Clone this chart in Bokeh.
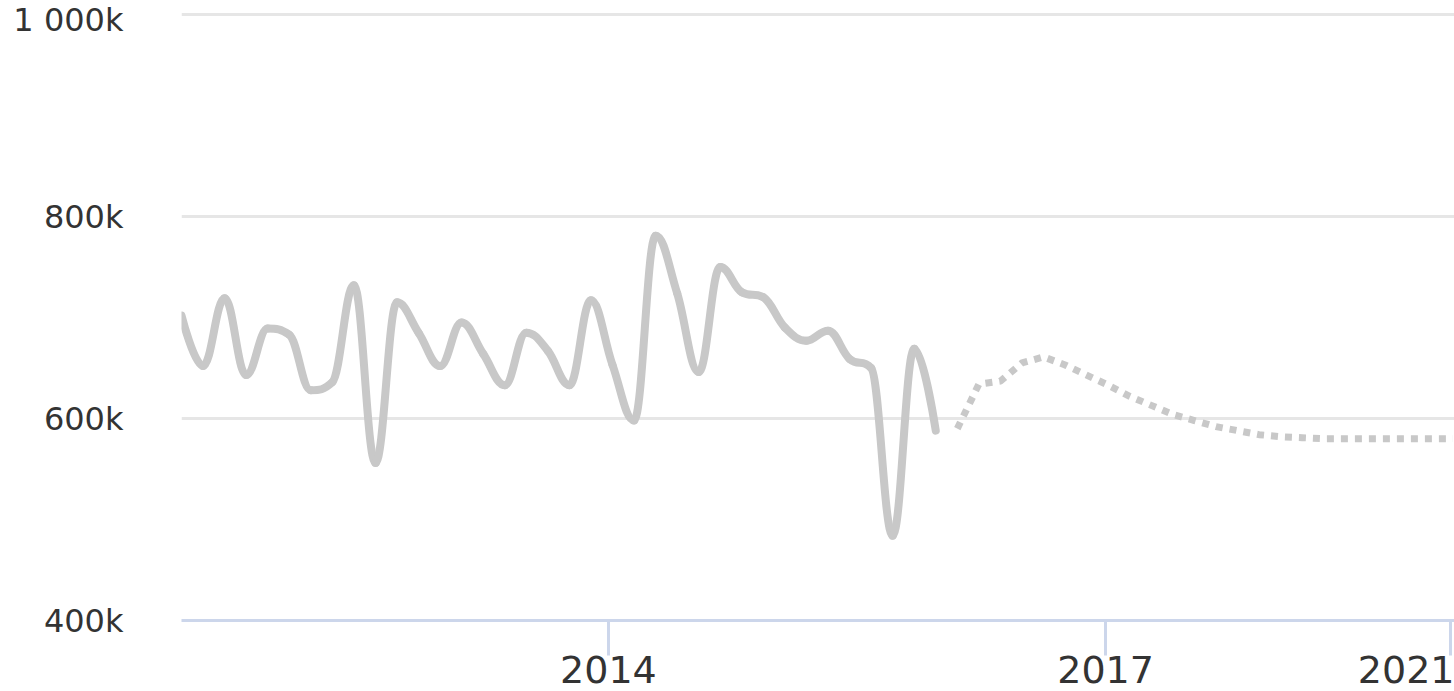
import numpy as np
from bokeh.plotting import figure
from bokeh.models import FixedTicker, Range1d, ColumnDataSource
from bokeh.embed import file_html
from bokeh.resources import INLINE

# ---- data (values in thousands) ----
actual_values = [702, 652, 719, 643, 689, 683, 628, 636, 732, 556, 715, 685,
                 652, 695, 664, 633, 685, 667, 633, 717, 653, 598, 781, 724,
                 646, 750, 725, 720, 690, 677, 687, 659, 650, 484, 669, 588]
forecast_values = [590, 634, 637, 655, 661, 653, 643, 633, 622, 613, 604, 598,
                   592, 588, 584, 582, 581, 580, 580, 580, 580, 580, 580, 580]
actual_x = list(range(len(actual_values)))
forecast_x = list(range(len(actual_values), len(actual_values) + len(forecast_values)))

x_tick_positions = [19.81, 42.88, 58.89]
x_tick_labels = ["2014", "2017", "2021"]
y_ticks = [400, 600, 800, 1000]
y_tick_labels = ["400k", "600k", "800k", "1 000k"]


def spline_segments(xs, ys, smoothing=1.5):
    n = len(xs)
    denom = smoothing + 1
    lcx, lcy = list(map(float, xs)), list(map(float, ys))
    rcx, rcy = list(map(float, xs)), list(map(float, ys))
    for i in range(1, n - 1):
        x, y = xs[i], ys[i]
        lx, ly = xs[i - 1], ys[i - 1]
        nx, ny = xs[i + 1], ys[i + 1]
        a = (smoothing * x + lx) / denom
        b = (smoothing * y + ly) / denom
        c = (smoothing * x + nx) / denom
        d = (smoothing * y + ny) / denom
        if c != a:
            corr = ((d - b) * (c - x)) / (c - a) + y - d
            b += corr
            d += corr
        if b > ly and b > y:
            b = max(ly, y); d = 2 * y - b
        elif b < ly and b < y:
            b = min(ly, y); d = 2 * y - b
        if d > ny and d > y:
            d = max(ny, y); b = 2 * y - d
        elif d < ny and d < y:
            d = min(ny, y); b = 2 * y - d
        lcx[i], lcy[i], rcx[i], rcy[i] = a, b, c, d
    return dict(
        x0=xs[:-1], y0=ys[:-1], x1=xs[1:], y1=ys[1:],
        cx0=rcx[:-1], cy0=rcy[:-1], cx1=lcx[1:], cy1=lcy[1:],
    )


p = figure(width=1454, height=691, output_backend="svg", toolbar_location=None,
           x_range=Range1d(0, 59.07), y_range=Range1d(400, 1002),
           min_border_left=181, min_border_right=0, min_border_top=12,
           min_border_bottom=71)
p.outline_line_color = None
p.background_fill_color = "white"
p.border_fill_color = "white"

src = ColumnDataSource(spline_segments(actual_x, actual_values))
p.bezier(x0="x0", y0="y0", x1="x1", y1="y1", cx0="cx0", cy0="cy0",
         cx1="cx1", cy1="cy1", source=src, line_color="#c8c8c8",
         line_width=8, line_cap="round")

p.line(forecast_x, forecast_values, line_color="#c8c8c8", line_width=7,
       line_dash="7 7", line_cap="butt", line_join="round")

# x axis
xa = p.xaxis[0]
xa.ticker = FixedTicker(ticks=x_tick_positions)
xa.major_label_overrides = {k: v for k, v in zip(x_tick_positions, x_tick_labels)}
xa.axis_line_color = "#ccd6eb"
xa.axis_line_width = 3
xa.major_tick_line_color = "#ccd6eb"
xa.major_tick_line_width = 3
xa.major_tick_out = 35
xa.major_tick_in = 0
xa.minor_tick_line_color = None
xa.major_label_text_font = "DejaVu Sans"
xa.major_label_text_font_size = "38px"
xa.major_label_text_color = "#333333"
xa.major_label_standoff = 0

# y axis
ya = p.yaxis[0]
ya.ticker = FixedTicker(ticks=y_ticks)
ya.major_label_overrides = {k: v for k, v in zip(y_ticks, y_tick_labels)}
ya.axis_line_color = None
ya.major_tick_line_color = None
ya.minor_tick_line_color = None
ya.major_tick_out = 0
ya.major_tick_in = 0
ya.major_label_standoff = 58
ya.major_label_text_font = "DejaVu Sans"
ya.major_label_text_font_size = "32px"
ya.major_label_text_color = "#333333"

p.xgrid.grid_line_color = None
p.ygrid.grid_line_color = "#e6e6e6"
p.ygrid.grid_line_width = 3

open("out.html", "w").write(file_html(p, INLINE))
